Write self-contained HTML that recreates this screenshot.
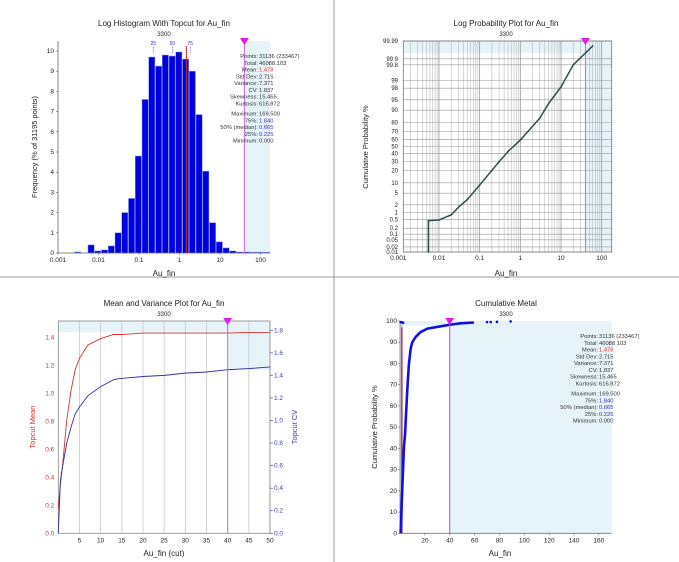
<!DOCTYPE html>
<html><head><meta charset="utf-8"><style>
html,body{margin:0;padding:0;background:#fff;}
svg{display:block;font-family:"Liberation Sans",sans-serif;}
</style></head><body>
<svg id="root" width="679" height="562" viewBox="0 0 679 562" xmlns="http://www.w3.org/2000/svg">
<rect x="0" y="0" width="679" height="562" fill="#fff"/>
<line x1="334" y1="0" x2="334" y2="562" stroke="#999" stroke-width="1"/>
<line x1="0" y1="277" x2="679" y2="277" stroke="#999" stroke-width="1"/>

<g id="p1">
<text x="164" y="26" font-size="8" text-anchor="middle" fill="#222">Log Histogram With Topcut for Au_fin</text>
<text x="164" y="36" font-size="6" text-anchor="middle" fill="#222">3300</text>
<text x="164" y="276" font-size="8" text-anchor="middle" fill="#222">Au_fin</text>
<text transform="translate(37,147) rotate(-90)" font-size="7.5" text-anchor="middle" fill="#222">Frequency (% of 31195 points)</text>
</g>
<g id="p2">
<text x="506" y="26" font-size="8" text-anchor="middle" fill="#222">Log Probability Plot for Au_fin</text>
<text x="506" y="36" font-size="6" text-anchor="middle" fill="#222">3300</text>
<text x="506" y="276" font-size="8" text-anchor="middle" fill="#222">Au_fin</text>
<text transform="translate(368,147) rotate(-90)" font-size="7.5" text-anchor="middle" fill="#222">Cumulative Probability %</text>
</g>
<g id="p3">
<text x="164" y="306" font-size="8" text-anchor="middle" fill="#222">Mean and Variance Plot for Au_fin</text>
<text x="164" y="316" font-size="6" text-anchor="middle" fill="#222">3300</text>
<text x="164" y="556" font-size="8" text-anchor="middle" fill="#222">Au_fin (cut)</text>
<text transform="translate(35,427) rotate(-90)" font-size="7.5" text-anchor="middle" fill="#d03030">Topcut Mean</text>
<text transform="translate(297,427) rotate(-90)" font-size="7.5" text-anchor="middle" fill="#4040a0">Topcut CV</text>
</g>
<g id="p4">
<text x="506" y="306" font-size="8" text-anchor="middle" fill="#222">Cumulative Metal</text>
<text x="506" y="316" font-size="6" text-anchor="middle" fill="#222">3300</text>
<text x="500" y="556" font-size="8" text-anchor="middle" fill="#222">Au_fin</text>
<text transform="translate(377,427) rotate(-90)" font-size="7.5" text-anchor="middle" fill="#222">Cumulative Probability %</text>
</g>
</svg>
<script>
// ---------- data ----------
const histBinStart = -2.6;
const histBinWidth = 0.1667;
const histFreq = [0.05,0,0.4,0.1,0.15,0.35,1.0,2.0,2.7,4.8,7.6,9.7,9.25,9.8,9.75,9.95,9.6,9.0,6.85,4.05,1.5,0.55,0.25,0.1,0.05,0.05,0.04,0.04,0.04];
const histYTicks = [0,1,2,3,4,5,6,7,8,9,10];
const logXTicks = [0.001,0.01,0.1,1,10,100];
const logXTickLabels = ["0.001","0.01","0.1","1","10","100"];
const quantileValues = [0.225,0.665,1.84];
const quantileLabels = ["25","50","75"];
const meanValue = 1.478;
const topcutValue = 40;
const statLabels = ["Points","Total","Mean","Std Dev","Variance","CV","Skewness","Kurtosis","Maximum","75%","50% (median)","25%","Minimum"];
const statValues = ["31136 (233467)","46088.103","1.478","2.715","7.371","1.837","15.465","616.872","169.500","1.840","0.665","0.225","0.000"];
const probX = [0.0055,0.0055,0.0055,0.007,0.01,0.02,0.03,0.05,0.1,0.2,0.3,0.5,1,3,5,10,20,60];
const probY = [0.01,0.1,0.45,0.46,0.48,0.8,1.6,3.1,8.7,20,29.5,43,59,84,93.6,98.2,99.8,99.98];
const probYTicks = [0.01,0.02,0.05,0.1,0.2,0.5,1,2,5,10,20,30,40,50,60,70,80,90,95,98,99,99.8,99.9,99.99];
const probYTickLabels = ["0.01","0.02","0.05","0.1","0.2","0.5","1","2","5","10","20","30","40","50","60","70","80","90","95","98","99","99.8","99.9","99.99"];
const mvX = [0,0.5,1,2,3,4,5,7,10,13,15,20,30,40,45,50];
const mvMean = [0.17,0.35,0.48,0.81,1.02,1.17,1.25,1.345,1.39,1.42,1.42,1.43,1.43,1.43,1.435,1.435];
const mvCVX = [0,0.5,1,2,3,4,5,7,10,13,14,20,25,30,35,40,45,50];
const mvCV = [0,0.47,0.59,0.8,0.94,1.06,1.12,1.22,1.30,1.36,1.37,1.39,1.40,1.42,1.43,1.45,1.46,1.475];
const mvXTicks = [5,10,15,20,25,30,35,40,45,50];
const mvMeanTicks = [0,0.2,0.4,0.6,0.8,1.0,1.2,1.4];
const mvMeanTickLabels = ["0.0","0.2","0.4","0.6","0.8","1.0","1.2","1.4"];
const mvCVTicks = [0,0.2,0.4,0.6,0.8,1.0,1.2,1.4,1.6,1.8];
const mvCVTickLabels = ["0.0","0.2","0.4","0.6","0.8","1.0","1.2","1.4","1.6","1.8"];
const cmX = [0.5,1.9,3.2,4.0,5.9,7.2,8.6,9.9,12.6,16.6,22,32.7,40.8,48.8,59.5];
const cmY = [0,22,41,46,68,80,87,90,92.5,94.8,96.4,97.5,98.3,98.9,99.3];
const cmScatterX = [0.5,1.5,2.5,70,73,78,89];
const cmScatterY = [99.5,99.4,99.2,99.5,99.5,99.6,99.8];
const cmXTicks = [20,40,60,80,100,120,140,160];
const cmYTicks = [0,10,20,30,40,50,60,70,80,90,100];

// ---------- helpers ----------
const NS = "http://www.w3.org/2000/svg";
function mk(tag, attrs, parent){const e=document.createElementNS(NS,tag);for(const k in attrs)e.setAttribute(k,attrs[k]);parent.appendChild(e);return e;}
function txt(x,y,s,size,fill,anchor,parent){const t=mk("text",{x:x,y:y,"font-size":size,fill:fill,"text-anchor":anchor},parent);t.textContent=s;return t;}
function invNorm(p){const a=[-39.69683028665376,220.9460984245205,-275.9285104469687,138.3577518672690,-30.66479806614716,2.506628277459239];const b=[-54.47609879822406,161.5858368580409,-155.6989798598866,66.80131188771972,-13.28068155288572];const c=[-0.007784894002430293,-0.3223964580411365,-2.400758277161838,-2.549732539343734,4.374664141464968,2.938163982698783];const d=[0.007784695709041462,0.3224671290700398,2.445134137142996,3.754408661907416];const pl=0.02425;let q,r;if(p<pl){q=Math.sqrt(-2*Math.log(p));return(((((c[0]*q+c[1])*q+c[2])*q+c[3])*q+c[4])*q+c[5])/((((d[0]*q+d[1])*q+d[2])*q+d[3])*q+1);}if(p>1-pl){q=Math.sqrt(-2*Math.log(1-p));return-(((((c[0]*q+c[1])*q+c[2])*q+c[3])*q+c[4])*q+c[5])/((((d[0]*q+d[1])*q+d[2])*q+d[3])*q+1);}q=p-0.5;r=q*q;return(((((a[0]*r+a[1])*r+a[2])*r+a[3])*r+a[4])*r+a[5])*q/(((((b[0]*r+b[1])*r+b[2])*r+b[3])*r+b[4])*r+1);}
function stats(colonX, y0, parent){
  for(let i=0;i<statLabels.length;i++){
    const y = y0 + i*6.75 + (i>=8?3.5:0);
    const l = txt(colonX,y,statLabels[i]+":","5.8","#333","end",parent);
    
    
    const col = (i===2)?"#e03030":((i>=9&&i<=11)?"#3030c0":"#333");
    const v = txt(colonX+1,y,statValues[i],"5.8",col,"start",parent);
    
    
  }
}
function marker(x,y,parent){
  const m = mk("polygon",{points:(x-4.5)+","+(y-3)+" "+(x+4.5)+","+(y-3)+" "+x+","+(y+4),fill:"#e020e0"},parent);
  
  
}

// ---------- Panel 1: histogram ----------
(function(){
  const g = document.getElementById("p1");
  const L=58,R=270,T=41,B=253;
  const hx = v => L + (Math.log10(v)+3)*40.5;
  const hxl = lg => L + (lg+3)*40.5;
  const hy = f => B - f*20.2;
  const sh = mk("rect",{x:hx(topcutValue),y:T,width:R-hx(topcutValue),height:B-T,fill:"#e6f3f8"},g);
  
  
  for(let k=0;k<histFreq.length;k++){
    if(histFreq[k]<=0) continue;
    const x0=hxl(histBinStart+k*histBinWidth), x1=hxl(histBinStart+(k+1)*histBinWidth);
    const b = mk("rect",{x:x0+0.3,y:hy(histFreq[k]),width:x1-x0-0.6,height:B-hy(histFreq[k]),fill:"#0000dd",stroke:"#7a8cff","stroke-width":"0.5"},g);
    
    
  }
  const ax = mk("path",{d:"M"+L+","+T+"V"+B+"H"+R,fill:"none",stroke:"#666","stroke-width":"0.8"},g);
  
  
  histYTicks.forEach(t=>{
    const tk = mk("line",{x1:L-2,y1:hy(t),x2:L,y2:hy(t),stroke:"#666","stroke-width":"0.6"},g);
    
    
    const lb = txt(L-4,hy(t)+2,String(t),"6.5","#222","end",g);
    
    
  });
  logXTicks.forEach((t,i)=>{
    const tk = mk("line",{x1:hx(t),y1:B,x2:hx(t),y2:B+2,stroke:"#666","stroke-width":"0.6"},g);
    
    
    const lb = txt(hx(t),B+9,logXTickLabels[i],"6.5","#222","middle",g);
    
    
  });
  quantileValues.forEach((q,i)=>{
    const ql = mk("line",{x1:hx(q),y1:47,x2:hx(q),y2:53,stroke:"#4040c0","stroke-width":"0.6","stroke-dasharray":"1.5,1"},g);
    
    
    const qt = txt(hx(q),45,quantileLabels[i],"5","#3030c0","middle",g);
    
    
  });
  const ml = mk("line",{x1:hx(meanValue),y1:46,x2:hx(meanValue),y2:B,stroke:"#e02020","stroke-width":"1"},g);
  
  
  const tl = mk("line",{x1:hx(topcutValue),y1:T,x2:hx(topcutValue),y2:B,stroke:"#e060e0","stroke-width":"1"},g);
  
  
  marker(hx(topcutValue),T,g);
  stats(258,58,g);
})();

// ---------- Panel 2: log probability ----------
(function(){
  const g = document.getElementById("p2");
  const L=403.3,R=611.7,T=41,B=252;
  const px = v => 398.3 + (Math.log10(v)+3)*40.67;
  const py = p => 146.5 - invNorm(p/100)*28.37;
  const s1 = mk("rect",{x:L,y:T,width:R-L,height:py(99.95)-T,fill:"#e6f3f8"},g);
  
  
  const s2 = mk("rect",{x:px(topcutValue),y:T,width:R-px(topcutValue),height:B-T,fill:"#e6f3f8"},g);
  
  
  for(let d=-3; d<=2; d++){
    for(let m=1;m<=9;m++){
      const v=m*Math.pow(10,d), x=px(v);
      if(x<L||x>R) continue;
      const gl = mk("line",{x1:x,y1:T,x2:x,y2:B,stroke:m===1?"#999":"#bbb","stroke-width":m===1?"0.8":"0.6"},g);
      
      
    }
  }
  probYTicks.forEach((t,i)=>{
    const gl = mk("line",{x1:L,y1:py(t),x2:R,y2:py(t),stroke:"#999","stroke-width":"0.6"},g);
    
    
    const lb = txt(398,py(t)+2,probYTickLabels[i],"6","#222","end",g);
    
    
  });
  logXTicks.forEach((t,i)=>{
    const lb = txt(Math.max(px(t),398),B+8,logXTickLabels[i],"6.5","#222","middle",g);
    
    
  });
  const fr = mk("rect",{x:L,y:T,width:R-L,height:B-T,fill:"none",stroke:"#777","stroke-width":"0.8"},g);
  
  
  const tl = mk("line",{x1:px(topcutValue),y1:T,x2:px(topcutValue),y2:B,stroke:"#e060e0","stroke-width":"1"},g);
  
  
  let d="";
  probX.forEach((v,i)=>{d+=(i?"L":"M")+px(v).toFixed(2)+","+py(probY[i]).toFixed(2);});
  const cl = mk("path",{d:d,fill:"none",stroke:"#2f4f4f","stroke-width":"1.5"},g);
  
  
  probX.forEach((v,i)=>{
    const c = mk("circle",{cx:px(v),cy:py(probY[i]),r:"0.9",fill:"#2f4f4f"},g);
    
    
  });
  marker(px(topcutValue),T,g);
})();

// ---------- Panel 3: mean & variance ----------
(function(){
  const g = document.getElementById("p3");
  const L=58.3,R=270,T=321,B=533.3;
  const mx = v => L + v*4.234;
  const my = v => B - v*140;
  const cy = v => B - v*112.8;
  const s1 = mk("rect",{x:L,y:T,width:R-L,height:my(1.435)-T,fill:"#e6f3f8"},g);
  
  
  const s2 = mk("rect",{x:mx(topcutValue),y:T,width:R-mx(topcutValue),height:cy(1.45)-T,fill:"#e6f3f8"},g);
  
  
  mvXTicks.forEach(t=>{
    const gl = mk("line",{x1:mx(t),y1:T,x2:mx(t),y2:B,stroke:"#c8c8c8","stroke-width":"0.8"},g);
    
    
    const lb = txt(mx(t),B+9,String(t),"6.5","#222","middle",g);
    
    
  });
  const fr = mk("rect",{x:L,y:T,width:R-L,height:B-T,fill:"none",stroke:"#888","stroke-width":"0.8"},g);
  
  
  mvMeanTicks.forEach((t,i)=>{
    const lb = txt(L-4,my(t)+2,mvMeanTickLabels[i],"6.5","#d03030","end",g);
    
    
  });
  mvCVTicks.forEach((t,i)=>{
    const tk = mk("line",{x1:R,y1:cy(t),x2:R+3,y2:cy(t),stroke:"#4040a0","stroke-width":"0.6"},g);
    
    
    const lb = txt(R+4,cy(t)+2,mvCVTickLabels[i],"6.5","#4040a0","start",g);
    
    
  });
  let d="";
  mvX.forEach((v,i)=>{d+=(i?"L":"M")+mx(v).toFixed(2)+","+my(mvMean[i]).toFixed(2);});
  const ml = mk("path",{d:d,fill:"none",stroke:"#d83030","stroke-width":"0.9"},g);
  
  
  let d2="";
  mvCVX.forEach((v,i)=>{d2+=(i?"L":"M")+mx(v).toFixed(2)+","+cy(mvCV[i]).toFixed(2);});
  const cl = mk("path",{d:d2,fill:"none",stroke:"#3030a0","stroke-width":"0.9"},g);
  
  
  const tl = mk("line",{x1:mx(topcutValue),y1:T,x2:mx(topcutValue),y2:B,stroke:"#e060e0","stroke-width":"1"},g);
  
  
  marker(mx(topcutValue),T,g);
})();

// ---------- Panel 4: cumulative metal ----------
(function(){
  const g = document.getElementById("p4");
  const L=400,R=611.7,T=321,B=533.3;
  const cx = v => L + v*1.243;
  const cyy = p => B - p*2.123;
  const s1 = mk("rect",{x:L,y:T,width:R-L,height:cyy(98)-T,fill:"#e6f3f8"},g);
  
  
  const s2 = mk("rect",{x:cx(topcutValue),y:T,width:R-cx(topcutValue),height:B-T,fill:"#e6f3f8"},g);
  
  
  const s3 = mk("rect",{x:L,y:T,width:cx(2.5)-L,height:B-T,fill:"#c8c8f0","fill-opacity":"0.7"},g);
  
  
  const ax = mk("path",{d:"M"+L+","+T+"V"+B+"H"+R,fill:"none",stroke:"#777","stroke-width":"0.8"},g);
  
  
  cmYTicks.forEach(t=>{
    const tk = mk("line",{x1:L-2,y1:cyy(t),x2:L,y2:cyy(t),stroke:"#666","stroke-width":"0.6"},g);
    
    
    const lb = txt(L-3,cyy(t)+2,String(t),"6.5","#222","end",g);
    
    
  });
  cmXTicks.forEach(t=>{
    const tk = mk("line",{x1:cx(t),y1:B,x2:cx(t),y2:B+2,stroke:"#666","stroke-width":"0.6"},g);
    
    
    const lb = txt(cx(t),B+9,String(t),"6.5","#222","middle",g);
    
    
  });
  const ml = mk("line",{x1:cx(meanValue),y1:cyy(97),x2:cx(meanValue),y2:B,stroke:"#c02020","stroke-width":"1.2"},g);
  
  
  let d="";
  cmX.forEach((v,i)=>{d+=(i?"L":"M")+cx(v).toFixed(2)+","+cyy(cmY[i]).toFixed(2);});
  const cl = mk("path",{d:d,fill:"none",stroke:"#1010e0","stroke-width":"2.6","stroke-linejoin":"round"},g);
  
  
  cmScatterX.forEach((v,i)=>{
    const c = mk("circle",{cx:cx(v),cy:cyy(cmScatterY[i]),r:"1.3",fill:"#1010e0"},g);
    
    
  });
  const tl = mk("line",{x1:cx(topcutValue),y1:T,x2:cx(topcutValue),y2:B,stroke:"#d040d0","stroke-width":"1"},g);
  
  
  marker(cx(topcutValue),T,g);
  stats(598,338,g);
})();
</script>
</body></html>
